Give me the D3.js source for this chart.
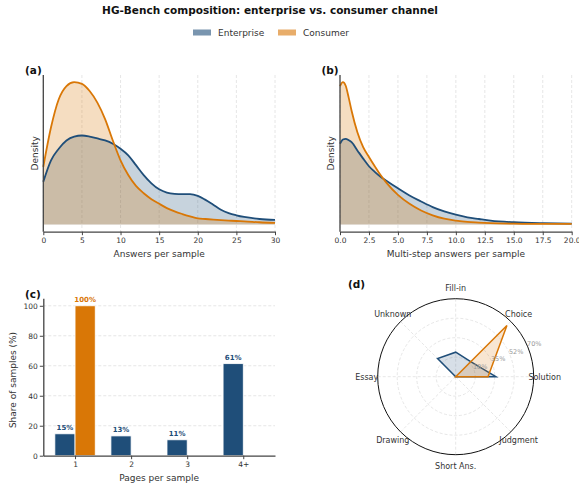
<!DOCTYPE html>
<html><head><meta charset="utf-8">
<script src="https://cdn.jsdelivr.net/npm/d3@7/dist/d3.min.js"></script>
<style>body{margin:0;background:#fff} text{font-family:"DejaVu Sans",sans-serif}</style>
</head><body><svg id="c" width="579" height="486"></svg>
<script>
// ---------- data ----------
const seriesNames = ["Enterprise", "Consumer"];
const entColor = "#1f4e79", conColor = "#d97706";

// (a) KDE of answers per sample
const kdeA_x = [0,1,2,3,4,5,6,7,8,9,10,11,12,13,14,15,16,17,18,19,20,21,22,23,24,25,26,28,30];
const kdeA_ent = [0.0406,0.0609,0.0719,0.0797,0.0834,0.0844,0.0834,0.0816,0.0797,0.0766,0.0719,0.0656,0.0563,0.0469,0.0391,0.0334,0.0303,0.0291,0.0288,0.0288,0.0272,0.0234,0.0188,0.0141,0.0109,0.0088,0.0072,0.0053,0.0044];
const kdeA_con = [0.0547,0.0922,0.1188,0.1313,0.1350,0.1334,0.1266,0.1156,0.1000,0.0797,0.0609,0.0469,0.0366,0.0297,0.0241,0.0197,0.0156,0.0125,0.0100,0.0078,0.0059,0.0053,0.0047,0.0042,0.0038,0.0034,0.0031,0.0022,0.0016];
const ticksA = [0,5,10,15,20,25,30];

// (b) KDE of multi-step answers per sample
const kdeB_x = [0,0.25,0.5,0.75,1,1.5,2,2.5,3,3.5,4,5,6,7,8,9,10,11,12,13,15,17.5,20];
const kdeB_ent = [0.0766,0.0806,0.0813,0.0800,0.0781,0.0703,0.0625,0.0553,0.0500,0.0453,0.0416,0.0344,0.0275,0.0219,0.0166,0.0125,0.0094,0.0069,0.0053,0.0038,0.0022,0.0013,0.0009];
const kdeB_con = [0.1313,0.1350,0.1313,0.1203,0.1078,0.0875,0.0734,0.0641,0.0553,0.0469,0.0397,0.0281,0.0197,0.0134,0.0088,0.0056,0.0038,0.0025,0.0019,0.0014,0.0009,0.0006,0.0006];
const ticksB = [0,2.5,5,7.5,10,12.5,15,17.5,20];

// (c) pages per sample
const pages = ["1","2","3","4+"];
const pagesEnt = [14.6,13.2,10.6,61.4];
const pagesCon = [100,0,0,0];
const ticksC = [0,20,40,60,80,100];

// (d) question-type mix (%)
const radarCats = ["Solution","Choice","Fill-in","Unknown","Essay","Drawing","Short Ans.","Judgment"];
const radarEnt = [36,19,22,23,0,0,0,0];
const radarCon = [29,65,0,0,0,0,0,0];
const radarRings = [17.5,35,52.5,70];
const radarRingLabels = ["18%","35%","52%","70%"];

// ---------- drawing ----------
const svg = d3.select("#c");
const axisCol = "#444", textCol = "#333", gridCol = "#e0e0e0";

svg.append("text").attr("x",270).attr("y",14).attr("text-anchor","middle")
  .attr("font-size",10.5).attr("font-weight","bold").attr("fill","#111")
  .text("HG-Bench composition: enterprise vs. consumer channel");

// legend
const legItems = [{n:seriesNames[0],c:entColor,x:193},{n:seriesNames[1],c:conColor,x:278}];
legItems.forEach(d=>{
  svg.append("rect").attr("x",d.x).attr("y",29.5).attr("width",18).attr("height",6)
    .attr("fill",d.c).attr("fill-opacity",0.6);
  svg.append("text").attr("x",d.x+25).attr("y",36).attr("font-size",9).attr("fill",textCol).text(d.n);
});

function panelLabel(x,y,t){
  svg.append("text").attr("x",x).attr("y",y).attr("font-size",10.5).attr("font-weight","bold").attr("fill","#111").text(t);
}

function kdePanel(opt){
  const {x0,x1,top,bottom,xs,ent,con,ticks,fmt,xlabel,label,labelX} = opt;
  const xMax = ticks[ticks.length-1];
  const x = d3.scaleLinear().domain([0,xMax]).range([x0,x1]);
  const m = d3.max(ent.concat(con));
  const y = d3.scaleLinear().domain([-0.05*m,1.05*m]).range([bottom,top]);
  const g = svg.append("g");
  // grid
  g.selectAll(".vg").data(ticks).join("line")
    .attr("x1",d=>x(d)).attr("x2",d=>x(d)).attr("y1",top).attr("y2",bottom)
    .attr("stroke",gridCol).attr("stroke-dasharray","3,2").attr("stroke-width",0.8);
  const area = d3.area().x((d,i)=>x(xs[i])).y0(y(0)).y1(d=>y(d)).curve(d3.curveMonotoneX);
  const line = d3.line().x((d,i)=>x(xs[i])).y(d=>y(d)).curve(d3.curveMonotoneX);
  [[ent,entColor],[con,conColor]].forEach(([s,c])=>{
    g.append("path").attr("d",area(s)).attr("fill",c).attr("fill-opacity",0.25);
  });
  [[ent,entColor],[con,conColor]].forEach(([s,c])=>{
    g.append("path").attr("d",line(s)).attr("fill","none").attr("stroke",c).attr("stroke-width",1.8);
  });
  // axes
  const ax = g.append("g").attr("transform",`translate(0,${bottom})`)
    .call(d3.axisBottom(x).tickValues(ticks).tickFormat(fmt).tickSize(3.5).tickSizeOuter(0).tickPadding(2));
  ax.select(".domain").attr("stroke",axisCol).attr("stroke-width",1.3);
  ax.selectAll(".tick line").attr("stroke",axisCol);
  ax.selectAll(".tick text").attr("font-size",7.5).attr("fill",textCol).attr("font-family","DejaVu Sans");
  g.append("line").attr("x1",x0).attr("x2",x0).attr("y1",top).attr("y2",bottom)
    .attr("stroke",axisCol).attr("stroke-width",1.3);
  g.append("text").attr("x",(x0+x1)/2).attr("y",bottom+25).attr("text-anchor","middle")
    .attr("font-size",9).attr("fill",textCol).text(xlabel);
  g.append("text").attr("transform",`translate(${labelX},${(top+bottom)/2}) rotate(-90)`)
    .attr("text-anchor","middle").attr("font-size",9).attr("fill",textCol).text("Density");
  panelLabel(label[1],label[2],label[0]);
}

kdePanel({x0:43.3,x1:275,top:75,bottom:231.7,xs:kdeA_x,ent:kdeA_ent,con:kdeA_con,ticks:ticksA,
  fmt:d3.format("d"),xlabel:"Answers per sample",label:["(a)",25,74],labelX:38});
kdePanel({x0:340,x1:571.7,top:75,bottom:231.7,xs:kdeB_x,ent:kdeB_ent,con:kdeB_con,ticks:ticksB,
  fmt:d3.format(".1f"),xlabel:"Multi-step answers per sample",label:["(b)",321.5,74],labelX:334});

// (c) bars
(function(){
  const x0=43.3,x1=275,top=298.3,bottom=455.7;
  const x = d3.scaleLinear().domain([-0.566,3.566]).range([x0,x1]);
  const y = d3.scaleLinear().domain([0,105]).range([bottom,top]);
  const g = svg.append("g");
  g.selectAll(".hg").data(ticksC.slice(1)).join("line")
    .attr("x1",x0).attr("x2",x1).attr("y1",d=>y(d)).attr("y2",d=>y(d))
    .attr("stroke",gridCol).attr("stroke-dasharray","3,2").attr("stroke-width",0.8);
  const bw = 0.36, off = 0.18;
  [[pagesEnt,entColor,-off],[pagesCon,conColor,off]].forEach(([vals,c,o])=>{
    g.selectAll(null).data(vals).join("rect")
      .attr("x",(d,i)=>x(i+o-bw/2)).attr("width",x(bw)-x(0))
      .attr("y",d=>y(d)).attr("height",d=>y(0)-y(d))
      .attr("fill",c).attr("stroke","#fff").attr("stroke-width",0.8)
      .style("display",d=>d>0?null:"none");
    g.selectAll(null).data(vals).join("text")
      .attr("x",(d,i)=>x(i+o)).attr("y",d=>y(d)-4).attr("text-anchor","middle")
      .attr("font-size",7).attr("font-weight","bold").attr("fill",c)
      .text(d=>d>0?d3.format(".0f")(d)+"%":"");
  });
  const ax = g.append("g").attr("transform",`translate(0,${bottom})`)
    .call(d3.axisBottom(x).tickValues([0,1,2,3]).tickFormat(i=>pages[i]).tickSize(3.5).tickSizeOuter(0).tickPadding(2));
  ax.select(".domain").attr("stroke",axisCol).attr("stroke-width",1.3);
  ax.selectAll(".tick line").attr("stroke",axisCol);
  ax.selectAll(".tick text").attr("font-size",7.5).attr("fill",textCol).attr("font-family","DejaVu Sans");
  const ay = g.append("g").attr("transform",`translate(${x0},0)`)
    .call(d3.axisLeft(y).tickValues(ticksC).tickSize(3.5).tickSizeOuter(0).tickPadding(2));
  ay.select(".domain").attr("stroke",axisCol).attr("stroke-width",1.3);
  ay.selectAll(".tick line").attr("stroke",axisCol);
  ay.selectAll(".tick text").attr("font-size",7.5).attr("fill",textCol).attr("font-family","DejaVu Sans");
  g.append("text").attr("x",(x0+x1)/2).attr("y",bottom+25).attr("text-anchor","middle")
    .attr("font-size",9).attr("fill",textCol).text("Pages per sample");
  g.append("text").attr("transform",`translate(16,${(top+bottom)/2+3}) rotate(-90)`)
    .attr("text-anchor","middle").attr("font-size",9).attr("fill",textCol).text("Share of samples (%)");
  panelLabel(25,298,"(c)");
})();

// (d) radar
(function(){
  const cx=455.7, cy=376.7;
  const r = d3.scaleLinear().domain([0,70]).range([0,78]);
  const ang = d3.scaleLinear().domain([0,radarCats.length]).range([0,2*Math.PI]);
  const pt = (a,v)=>[cx+r(v)*Math.cos(a), cy-r(v)*Math.sin(a)];
  const g = svg.append("g");
  radarRings.slice(0,-1).forEach(v=>{
    g.append("circle").attr("cx",cx).attr("cy",cy).attr("r",r(v)).attr("fill","none")
      .attr("stroke",gridCol).attr("stroke-dasharray","3,2").attr("stroke-width",0.8);
  });
  radarCats.forEach((c,i)=>{
    const [px,py]=pt(ang(i),70);
    g.append("line").attr("x1",cx).attr("y1",cy).attr("x2",px).attr("y2",py)
      .attr("stroke",gridCol).attr("stroke-dasharray","3,2").attr("stroke-width",0.8);
  });
  const line = d3.line().curve(d3.curveLinearClosed);
  [[radarEnt,entColor],[radarCon,conColor]].forEach(([vals,c])=>{
    const pts = vals.map((v,i)=>pt(ang(i),v));
    g.append("path").attr("d",line(pts)).attr("fill",c).attr("fill-opacity",0.18)
      .attr("stroke",c).attr("stroke-width",1.5).attr("stroke-linejoin","miter");
  });
  g.append("circle").attr("cx",cx).attr("cy",cy).attr("r",r(70)).attr("fill","none")
    .attr("stroke","#111").attr("stroke-width",1);
  const la = Math.PI/8;
  radarRings.forEach((v,i)=>{
    const rr = r(v)+7;
    g.append("text").attr("x",cx+rr*Math.cos(la)).attr("y",cy-rr*Math.sin(la)+2)
      .attr("text-anchor","middle").attr("font-size",6.5).attr("fill","#999").text(radarRingLabels[i]);
  });
  radarCats.forEach((c,i)=>{
    const a = ang(i);
    g.append("text").attr("x",cx+89*Math.cos(a)).attr("y",cy-89*Math.sin(a)+3)
      .attr("text-anchor","middle").attr("font-size",8).attr("fill",textCol).text(c);
  });
  panelLabel(348,288,"(d)");
})();
</script></body></html>
